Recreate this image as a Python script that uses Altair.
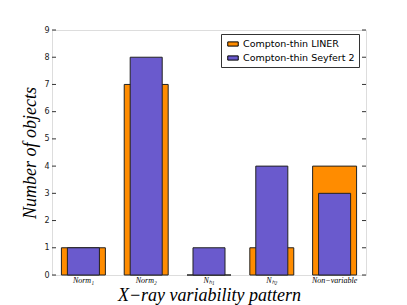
import altair as alt
import pandas as pd

categories = ["Norm₁", "Norm₂", "Nₕ₁", "Nₕ₂", "Non−variable"]
liner = [1, 7, 0, 1, 4]
seyfert = [1, 8, 1, 4, 3]
series_names = ["Compton-thin LINER", "Compton-thin Seyfert 2"]
series_colors = ["#FF8C00", "#6A5ACD"]
y_ticks = list(range(0, 10))

rows = []
for c, a, b in zip(categories, liner, seyfert):
    rows.append({"cat": c, "series": series_names[0], "value": a})
    rows.append({"cat": c, "series": series_names[1], "value": b})
df = pd.DataFrame(rows)
ticks_df = pd.DataFrame({"value": y_ticks})

W, H = 314, 245

xenc = alt.X("cat:N", sort=categories,
             scale=alt.Scale(paddingInner=0, paddingOuter=0),
             axis=alt.Axis(title="X−ray variability pattern", labelAngle=0,
                           labelFont="Liberation Serif", labelFontStyle="italic",
                           labelFontSize=8, labelColor="#000", tickSize=0,
                           domain=False, labelPadding=1,
                           titleFont="Liberation Serif", titleFontStyle="italic",
                           titleFontWeight="normal", titleFontSize=18, titleColor="#000",
                           titlePadding=2))
yaxis = alt.Axis(title="Number of objects", values=y_ticks, tickSize=0,
                 domain=False, grid=False, labelFont="DejaVu Sans",
                 labelFontSize=8, labelColor="#222", labelPadding=3,
                 labelOverlap=False, labelBound=False, labelFlush=False,
                 titleFont="Liberation Serif", titleFontStyle="italic",
                 titleFontWeight="normal", titleFontSize=18, titleColor="#000",
                 titlePadding=4)
yenc = alt.Y("value:Q", scale=alt.Scale(domain=[0, 9], nice=False), axis=yaxis)
color = alt.Color("series:N",
                  scale=alt.Scale(domain=series_names, range=series_colors),
                  legend=alt.Legend(title=None, orient="none", legendX=169, legendY=4,
                                    symbolType="M-1,-0.4L1,-0.4L1,0.4L-1,0.4Z",
                                    symbolSize=110, symbolStrokeColor="#000",
                                    symbolStrokeWidth=1, symbolOpacity=1,
                                    labelFont="DejaVu Sans", labelFontSize=9.5,
                                    labelColor="#000", strokeColor="#333",
                                    padding=4, rowPadding=3, fillColor="white",
                                    symbolOffset=2))

base = alt.Chart(df)
b1 = base.transform_filter(alt.datum.series == series_names[0]).mark_bar(
    width=alt.RelativeBandSize(0.70), stroke="#222", strokeWidth=1, opacity=1
).encode(x=xenc, y=yenc, color=color)
b2 = base.transform_filter(alt.datum.series == series_names[1]).mark_bar(
    width=alt.RelativeBandSize(0.51), stroke="#222", strokeWidth=1, opacity=1
).encode(x=xenc, y=yenc, color=color)

tl = alt.Chart(ticks_df).mark_rule(color="#333").encode(
    y=yenc, x=alt.value(0), x2=alt.value(4))
tr = alt.Chart(ticks_df).mark_rule(color="#333").encode(
    y=yenc, x=alt.value(W - 4), x2=alt.value(W))

chart = alt.layer(b1, b2, tl, tr).properties(
    width=W, height=H,
    autosize=alt.AutoSizeParams(type="none"),
    padding={"left": 44, "top": 22, "right": 30, "bottom": 30},
).configure_view(stroke="#444", strokeWidth=1).configure(background="white")

chart.save("out.html", embed_options={"renderer": "svg", "actions": False})
